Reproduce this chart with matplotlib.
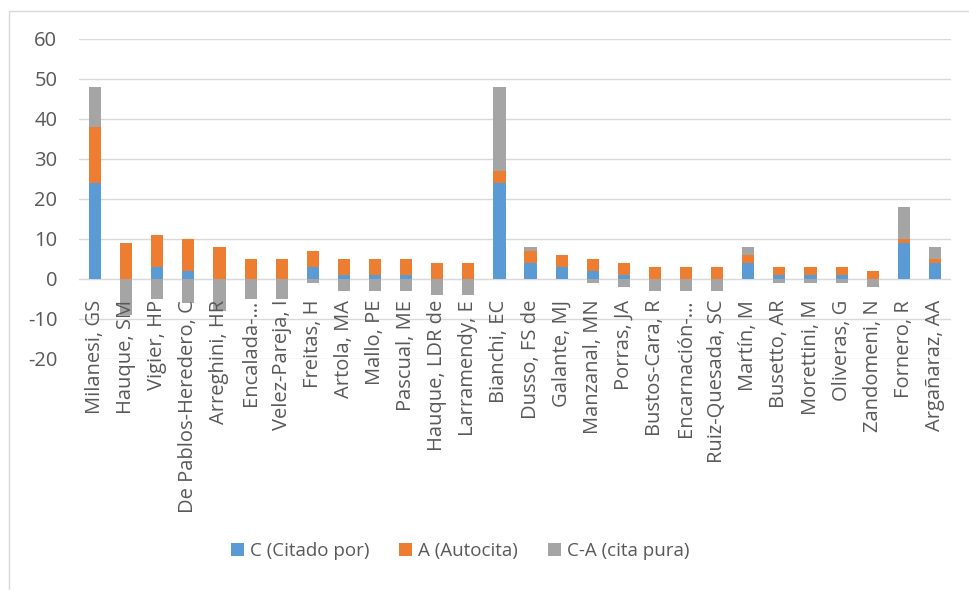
import numpy as np
import matplotlib
matplotlib.use("Agg")
import matplotlib.pyplot as plt
from matplotlib.patches import Rectangle

plt.rcParams['font.family'] = ['Open Sans', 'DejaVu Sans']
plt.rcParams['axes.unicode_minus'] = False

authors = [
    "Milanesi, GS", "Hauque, SM", "Vigier, HP", "De Pablos-Heredero, C",
    "Arreghini, HR", "Encalada-\u2026", "Velez-Pareja, I", "Freitas, H",
    "Artola, MA", "Mallo, PE", "Pascual, ME", "Hauque, LDR de",
    "Larramendy, E", "Bianchi, EC", "Dusso, FS de", "Galante, MJ",
    "Manzanal, MN", "Porras, JA", "Bustos-Cara, R", "Encarnaci\u00f3n-\u2026",
    "Ruiz-Quesada, SC", "Mart\u00edn, M", "Busetto, AR", "Morettini, M",
    "Oliveras, G", "Zandomeni, N", "Fornero, R", "Arga\u00f1araz, AA",
]
citado = [24, 0, 3, 2, 0, 0, 0, 3, 1, 1, 1, 0, 0, 24,
          4, 3, 2, 1, 0, 0, 0, 4, 1, 1, 1, 0, 9, 4]
autocita = [14, 9, 8, 8, 8, 5, 5, 4, 4, 4, 4, 4, 4, 3,
            3, 3, 3, 3, 3, 3, 3, 2, 2, 2, 2, 2, 1, 1]
series_names = ["C (Citado por)", "A (Autocita)", "C-A (cita pura)"]
y_ticks = [-20, -10, 0, 10, 20, 30, 40, 50, 60]

c = np.array(citado, dtype=float)
a = np.array(autocita, dtype=float)
pura = c - a

colors = ["#5B9BD5", "#ED7D31", "#A5A5A5"]
text_color = "#595959"
grid_color = "#D9D9D9"

fig = plt.figure(figsize=(9.7, 5.9), dpi=100)
ax = fig.add_axes([79.5 / 970, 1 - 359 / 590, 871 / 970, 320 / 590])

x = np.arange(len(authors))
w = 0.39

# horizontal gridlines behind everything
for t in y_ticks:
    ax.axhline(t, color=grid_color, linewidth=1.0, zorder=0.5)

# positive parts stack upward, negative parts hang below zero
ax.bar(x, c, w, color=colors[0], label=series_names[0], zorder=2)
ax.bar(x, a, w, bottom=c, color=colors[1], label=series_names[1], zorder=2)
pura_bottom = np.where(pura >= 0, c + a, 0)
ax.bar(x, pura, w, bottom=pura_bottom, color=colors[2], label=series_names[2], zorder=2)

ax.set_xlim(-0.5, len(authors) - 0.5)
ax.set_ylim(-20, 60)
ax.set_yticks(y_ticks)
ax.set_axisbelow(False)

for s in ["top", "right", "left"]:
    ax.spines[s].set_visible(False)
ax.spines["bottom"].set_position(("data", 0))
ax.spines["bottom"].set_color(grid_color)
ax.spines["bottom"].set_zorder(1)

ax.set_xticks(x)
ax.set_xticklabels(authors, rotation=90, va="top", ha="center")
ax.tick_params(axis="x", length=0, pad=15, labelsize=14.5, labelcolor=text_color)
ax.tick_params(axis="y", length=0, pad=16, labelsize=14.5, labelcolor=text_color)

# chart area border
fig.add_artist(Rectangle((9 / 970, -0.1), 1.1, 1 - 11 / 590 + 0.1,
                         transform=fig.transFigure, fill=False,
                         edgecolor="#D9D9D9", linewidth=1.0))

handles, labels = ax.get_legend_handles_labels()
fig.legend(handles, labels, loc="center", bbox_to_anchor=(460 / 970, 1 - 551 / 590),
           ncol=3, frameon=False, fontsize=13.5, labelcolor=text_color,
           handlelength=0.7, handleheight=0.7, handletextpad=0.3, columnspacing=1.6)

fig.savefig("out.png", dpi=100, facecolor="white")
